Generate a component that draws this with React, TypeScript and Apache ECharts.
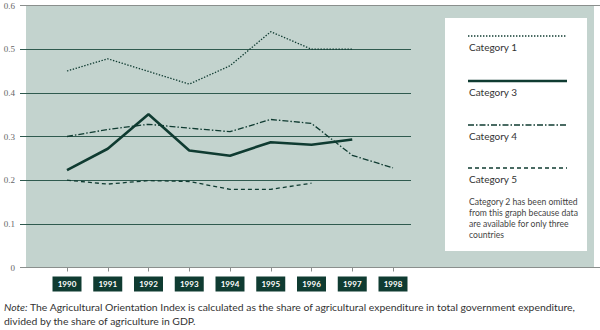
import React, { useEffect, useRef } from "react";
import * as echarts from "echarts";

const years = [1990, 1991, 1992, 1993, 1994, 1995, 1996, 1997, 1998];
const category1 = [0.45, 0.478, 0.449, 0.42, 0.462, 0.54, 0.5, 0.5, null];
const category3 = [0.223, 0.272, 0.351, 0.268, 0.256, 0.287, 0.281, 0.293, null];
const category4 = [0.3, 0.316, 0.328, 0.319, 0.311, 0.339, 0.33, 0.257, 0.228];
const category5 = [0.2, 0.191, 0.199, 0.197, 0.179, 0.179, 0.193, null, null];
const yTicks = [0, 0.1, 0.2, 0.3, 0.4, 0.5, 0.6];
const legendNames = ["Category 1", "Category 3", "Category 4", "Category 5"];
const legendNote = [
  "Category 2 has been omitted",
  "from this graph because data",
  "are available for only three",
  "countries",
];
const noteLine1 =
  "The Agricultural Orientation Index is calculated as the share of agricultural expenditure in total government expenditure,";
const noteLine2 = "divided by the share of agriculture in GDP.";

const DARK = "#0f3b31";
const BG = "#c3d3ce";
const GRID = "#2f5a4f";
const GREY = "#8a8f8d";
const FONT = "Lato, 'Open Sans', sans-serif";

const styles = [
  { type: [1.4, 1.6], width: 1.3 },
  { type: "solid", width: 2.6 },
  { type: [6, 2, 1.5, 2], width: 1.3 },
  { type: [4, 3], width: 1.3 },
];

export default function App() {
  const ref = useRef<HTMLDivElement>(null);
  useEffect(() => {
    if (!ref.current) return;
    const chart = echarts.init(ref.current, null, { renderer: "svg" });
    const seriesData = [category1, category3, category4, category5];
    const pxPerYear = 40.75;
    const xMin = 1990 - 47 / pxPerYear;
    const xMax = 1998 + 18 / pxPerYear;

    const legendGraphics: any[] = [];
    const lineYs = [36, 81, 125, 168];
    legendNames.forEach((name, i) => {
      const s = styles[i];
      legendGraphics.push({
        type: "line",
        shape: { x1: 468, y1: lineYs[i], x2: 567, y2: lineYs[i] },
        style: {
          stroke: DARK,
          lineWidth: s.width,
          lineDash: s.type === "solid" ? null : s.type,
        },
        z: 10,
      });
      legendGraphics.push({
        type: "text",
        x: 469,
        y: lineYs[i] + 11,
        style: {
          text: name,
          fill: "#333",
          font: `10px ${FONT}`,
          verticalAlign: "middle",
        },
        z: 10,
      });
    });
    legendNote.forEach((t, i) => {
      legendGraphics.push({
        type: "text",
        x: 469,
        y: 202 + i * 11,
        style: {
          text: t,
          fill: "#444",
          font: `8.6px ${FONT}`,
          verticalAlign: "middle",
        },
        z: 10,
      });
    });

    chart.setOption({
      animation: false,
      grid: { left: 20, right: 189, top: 5.5, bottom: 62.5 },
      xAxis: {
        type: "value",
        min: xMin,
        max: xMax,
        splitLine: { show: false },
        axisLine: { show: false },
        axisTick: {
          show: true,
          customValues: years,
          length: 4,
          lineStyle: { color: GREY, width: 1 },
        },
        axisLabel: {
          customValues: years,
          margin: 9,
          formatter: (v: number) => `{b|${v}}`,
          rich: {
            b: {
              backgroundColor: DARK,
              color: "#fff",
              width: 29,
              height: 15,
              lineHeight: 15,
              align: "center",
              fontSize: 8,
              fontWeight: "bold",
              fontFamily: FONT,
            },
          },
        },
      },
      yAxis: {
        type: "value",
        min: 0,
        max: 0.6,
        interval: 0.1,
        axisLine: { show: false },
        axisTick: { show: false },
        axisLabel: {
          margin: 5,
          color: "#666",
          fontSize: 9,
          fontFamily: "'Liberation Serif', 'DejaVu Serif', serif",
          formatter: (v: number) => (v === 0 ? "0" : v.toFixed(1)),
        },
        splitLine: {
          show: true,
          lineStyle: {
            color: [GREY, GRID, GRID, GRID, GRID, GRID, GREY],
            width: 1,
          },
        },
      },
      graphic: [
        {
          type: "rect",
          shape: { x: 26, y: 6, width: 568, height: 261.5 },
          style: { fill: BG },
          z: -100,
          silent: true,
        },
        {
          type: "line",
          shape: { x1: 411, y1: 5.5, x2: 600, y2: 5.5 },
          style: { stroke: GREY, lineWidth: 1 },
          z: 5,
        },
        {
          type: "line",
          shape: { x1: 411, y1: 267.5, x2: 600, y2: 267.5 },
          style: { stroke: GREY, lineWidth: 1 },
          z: 5,
        },
        {
          type: "rect",
          shape: { x: 445, y: 18, width: 142, height: 233 },
          style: { fill: "#ffffff" },
          z: 9,
        },
        ...legendGraphics,
        {
          type: "text",
          x: 4,
          y: 307,
          style: {
            text: `{i|Note:} ${noteLine1}`,
            rich: {
              i: { fontStyle: "italic", font: `italic 10.4px ${FONT}`, fill: "#333" },
            },
            font: `10.4px ${FONT}`,
            fill: "#333",
            verticalAlign: "middle",
          },
        },
        {
          type: "text",
          x: 4,
          y: 320.5,
          style: {
            text: noteLine2,
            font: `10.4px ${FONT}`,
            fill: "#333",
            verticalAlign: "middle",
          },
        },
      ],
      series: seriesData.map((arr, i) => ({
        name: legendNames[i],
        type: "line",
        showSymbol: false,
        symbol: "none",
        connectNulls: false,
        data: years.map((y, j) => (arr[j] == null ? [y, null] : [y, arr[j]])),
        lineStyle: { color: DARK, width: styles[i].width, type: styles[i].type as any },
        z: 3,
      })),
    });
    return () => chart.dispose();
  }, []);
  return (
    <div
      ref={ref}
      style={{ position: "fixed", left: 0, top: 0, width: 600, height: 330, background: "#fff" }}
    />
  );
}
